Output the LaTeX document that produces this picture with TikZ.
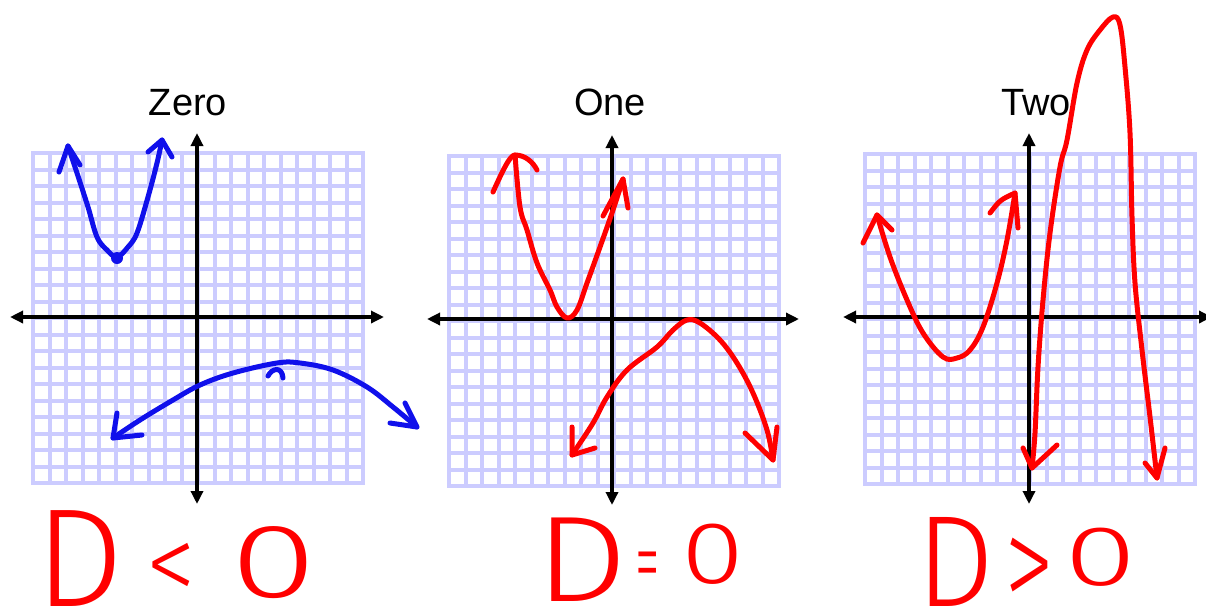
\documentclass[tikz,border=0pt]{standalone}
\usepackage{fontspec}
\setmainfont{Liberation Sans}
\IfFontExistsTF{Fira Sans Light}{\newfontfamily\handfont{Fira Sans Light}}{%
  \IfFontExistsTF{Fira Sans ExtraLight}{\newfontfamily\handfont{Fira Sans ExtraLight}}{\newfontfamily\handfont{Liberation Sans}}}
\usetikzlibrary{arrows.meta}
\definecolor{gridc}{RGB}{204,204,255}
\definecolor{penblue}{RGB}{16,16,235}
\definecolor{penred}{RGB}{255,0,0}
\tikzset{
  gridline/.style={draw=gridc, line width=4pt, line cap=rect},
  axis/.style={line width=3.5pt, {Triangle[length=13pt,width=12pt]}-{Triangle[length=13pt,width=12pt]}},
  bpen/.style={draw=penblue, line width=5pt, line cap=round, line join=round},
  rpen/.style={draw=penred, line width=5pt, line cap=round, line join=round},
  title/.style={font=\fontsize{38}{38}\selectfont, anchor=base, inner sep=0pt},
  hand/.style={text=penred, anchor=base west, inner sep=0pt, font=\handfont},
}
\newcommand\mygridpanel[2]{%
  \foreach \k in {0,...,20}{%
    \draw[gridline] ({#1+16.5*\k},#2) -- ({#1+16.5*\k},{#2+330});
    \draw[gridline] (#1,{#2+16.5*\k}) -- ({#1+330},{#2+16.5*\k});
  }%
}
% #1 box width, #2 raise, #3 font size, #4 xscale, #5 yscale, #6 glyph
\newcommand\hglyph[6]{\makebox[#1pt][c]{\raisebox{#2pt}{\scalebox{#4}[#5]{\fontsize{#3}{#3}\selectfont #6}}}}
\begin{document}
\begin{tikzpicture}[x=1pt,y=-1pt]
\useasboundingbox (0,0) rectangle (1206,611);
\fill[white] (0,0) rectangle (1206,611);

% grids
\mygridpanel{33}{153}
\mygridpanel{449}{156}
\mygridpanel{865}{154}

% axes
\draw[axis] (197,133) -- (197,504);
\draw[axis] (10,317) -- (384,317);
\draw[axis] (612,135) -- (612,505);
\draw[axis] (427,319) -- (799,319);
\draw[axis] (1029,133) -- (1029,504);
\draw[axis] (843,317) -- (1212,317);

% titles
\node[title] (t1) at (188,115) {Zero};
\node[title] (t2) at (610,115) {One};
\node[title] (t3) at (1036,115) {Two};

% panel 1 (blue)
\draw[bpen] plot[smooth, tension=0.6] coordinates {(68,146) (77,173) (88,207) (97,237) (107,250) (117,257) (128,247) (137,233) (148,197) (157,163) (162,140)};
\draw[bpen] (59,172) -- (68,146) -- (80,165);
\draw[bpen] (148,152) -- (162,140) -- (172,157);
\fill[penblue] (117,258) circle (6);
\draw[bpen] plot[smooth, tension=0.6] coordinates {(113,438) (140,420) (173,400) (200,385) (233,373) (277,363) (300,363) (333,370) (367,387) (393,407) (417,427)};
\draw[bpen] (117,413) -- (113,438) -- (142,435);
\draw[bpen] (405,403) -- (417,427) -- (390,423);
\draw[bpen] (268,376) .. controls (272,368) and (282,366) .. (283,378);

% panel 2 (red)
\draw[rpen] (493,192) .. controls (503,170) and (510,155) .. (515,155) .. controls (525,155) and (533,162) .. (537,170);
\draw[rpen] plot[smooth, tension=0.6] coordinates {(515,155) (520,207) (527,230) (537,263) (550,290) (557,307) (567,318) (577,310) (587,283) (600,247) (613,210) (623,179)};
\draw[rpen] (603,216) -- (623,179) -- (628,208);
\draw[rpen] plot[smooth, tension=0.6] coordinates {(572,455) (593,423) (607,397) (627,370) (657,347) (673,330) (687,320) (700,323) (720,340) (737,363) (753,393) (767,430) (773,460)};
\draw[rpen] (572,427) -- (572,455) -- (595,448);
\draw[rpen] (745,433) -- (773,460) -- (777,427);

% panel 3 (red)
\draw[rpen] plot[smooth, tension=0.6] coordinates {(877,215) (890,257) (907,300) (923,333) (943,357) (957,358) (970,350) (983,327) (997,283) (1007,240) (1015,193)};
\draw[rpen] (863,243) -- (877,215) -- (892,230);
\draw[rpen] (990,213) .. controls (1000,200) .. (1015,193) -- (1018,228);
\draw[rpen] plot[smooth, tension=0.6] coordinates {(1032,468) (1035,433) (1038,367) (1043,300) (1050,233) (1060,167) (1067,140) (1077,83) (1087,50) (1100,30) (1113,17) (1120,25) (1125,67) (1130,133) (1132,217) (1135,283) (1142,350) (1150,417) (1157,478)};
\draw[rpen] (1023,448) -- (1032,468) -- (1057,445);
\draw[rpen] (1145,463) -- (1157,478) -- (1165,448);

% handwritten conditions
\node[hand] (c1) at (42,606) {\hglyph{76}{0}{140}{1.0}{1.0}{D}\hspace{32pt}\hglyph{42}{5}{100}{1.0}{1.1}{<}\hspace{43pt}\hglyph{77}{9}{105}{1.5}{1.0}{0}};
\node[hand] (c2) at (540,601) {\hglyph{84}{0}{122}{1.2}{1.0}{D}\hspace{12pt}\hglyph{23}{8}{55}{0.9}{1.7}{=}\hspace{27pt}\hglyph{54}{18}{88}{1.3}{1.0}{0}};
\node[hand] (c3) at (922,606) {\hglyph{66}{0}{130}{0.95}{1.0}{D}\hspace{20pt}\hglyph{42}{-4}{100}{1.0}{1.37}{>}\hspace{20pt}\hglyph{62}{21}{85}{1.55}{1.0}{0}};
\end{tikzpicture}
\end{document}
